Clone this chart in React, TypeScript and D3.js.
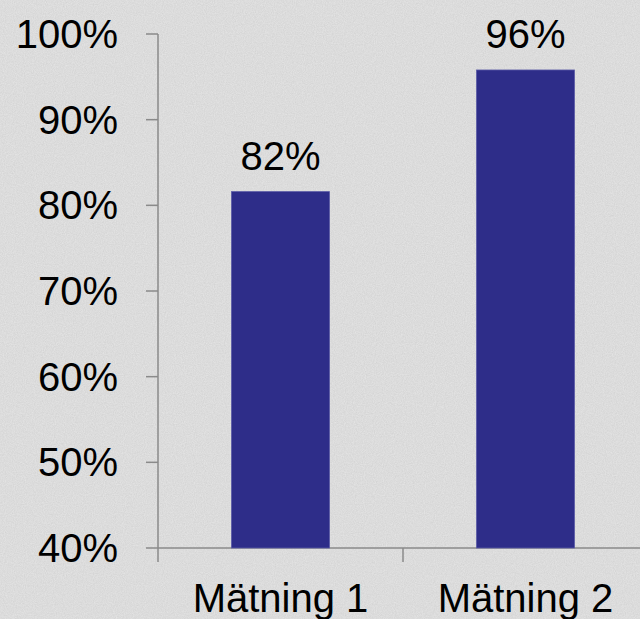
import React from "react";
import * as d3 from "d3";

const categories = ["Mätning 1", "Mätning 2"];
const values = [81.6, 95.8];
const yTicks = [40, 50, 60, 70, 80, 90, 100];

const W = 640;
const H = 619;

export default function App() {
  const x = d3
    .scaleBand<string>()
    .domain(categories)
    .range([158, 648])
    .paddingInner(0.6)
    .paddingOuter(0.3);
  const y = d3.scaleLinear().domain([40, 100]).range([548, 34]);
  const step = x.step();
  const x0 = 158;
  const font = "'Liberation Sans', Arial, sans-serif";
  const axisColor = "#8a8a8a";

  // category boundaries for x-axis tick marks
  const boundaries = categories.map((_, i) => x0 + i * step);

  return (
    <svg
      width={W}
      height={H}
      style={{ position: "absolute", left: 0, top: 0, display: "block" }}
    >
      <defs>
        <filter id="paper" x="0" y="0" width="100%" height="100%">
          <feTurbulence type="fractalNoise" baseFrequency="0.9" numOctaves="3" seed="4" result="n" />
          <feColorMatrix
            in="n"
            type="matrix"
            values="0 0 0 0 0  0 0 0 0 0  0 0 0 0 0  0 0 0 0.09 0"
          />
        </filter>
      </defs>
      <rect width={W} height={H} fill="#e6e6e6" />
      <rect width={W} height={H} filter="url(#paper)" />

      {/* y axis */}
      <line x1={x0} x2={x0} y1={y(100)} y2={y(40) + 14} stroke={axisColor} strokeWidth={1.5} />
      {yTicks.map((t) => (
        <g key={t}>
          <line x1={x0 - 12} x2={x0} y1={y(t)} y2={y(t)} stroke={axisColor} strokeWidth={1.5} />
          <text
            x={118}
            y={y(t)}
            textAnchor="end"
            dominantBaseline="central"
            fontFamily={font}
            fontSize={40}
            fill="#000"
          >
            {t}%
          </text>
        </g>
      ))}

      {/* x axis */}
      <line x1={x0} x2={W} y1={y(40)} y2={y(40)} stroke={axisColor} strokeWidth={1.5} />
      {boundaries.slice(1).map((b, i) => (
        <line key={i} x1={b} x2={b} y1={y(40)} y2={y(40) + 14} stroke={axisColor} strokeWidth={1.5} />
      ))}

      {/* bars */}
      {categories.map((c, i) => (
        <g key={c}>
          <rect
            x={x(c)}
            y={y(values[i])}
            width={x.bandwidth()}
            height={y(40) - y(values[i])}
            fill="#2e2d89"
            stroke="#5a5aa6"
            strokeWidth={0.8}
          />
          <text
            x={(x(c) as number) + x.bandwidth() / 2}
            y={y(values[i]) - 22}
            textAnchor="middle"
            fontFamily={font}
            fontSize={40}
            fill="#000"
          >
            {Math.round(values[i])}%
          </text>
          <text
            x={(x(c) as number) + x.bandwidth() / 2}
            y={612}
            textAnchor="middle"
            fontFamily={font}
            fontSize={40}
            fill="#000"
          >
            {c}
          </text>
        </g>
      ))}
    </svg>
  );
}
